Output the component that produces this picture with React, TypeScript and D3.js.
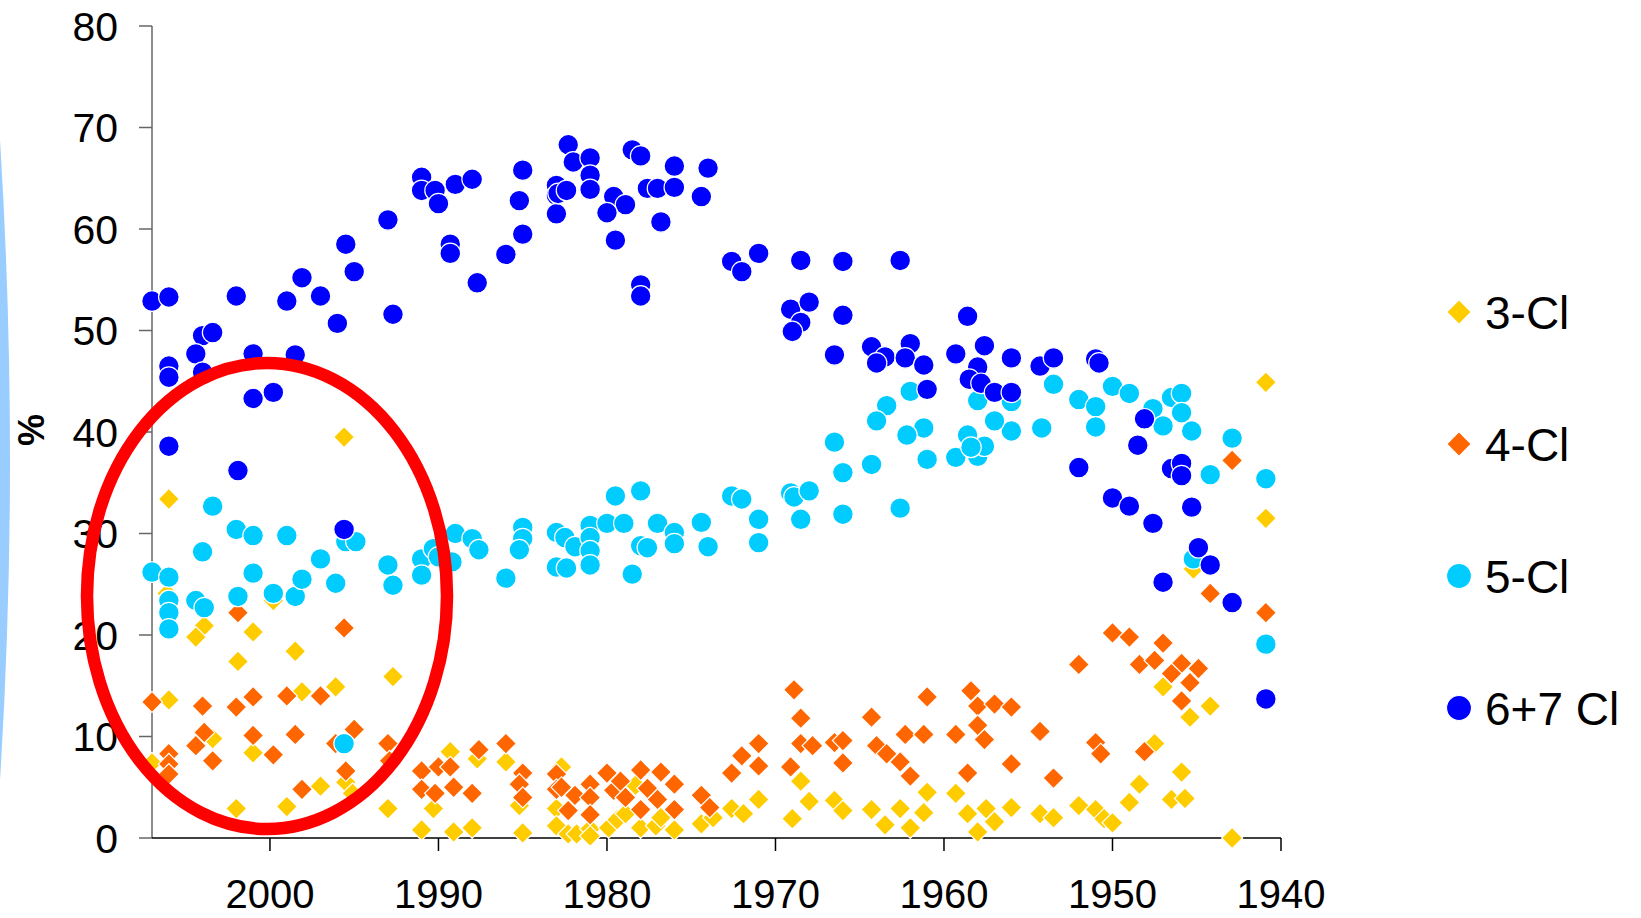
import * as d3 from "d3";

// year, percent
const cl3: [number, number][] = [
  [1995.6,39.5],[2006.0,33.4],[2006.1,24.1],[1999.8,23.4],[2003.9,20.9],[2004.4,19.8],[2001.0,20.3],[2001.9,17.4],
  [1998.5,18.4],[1992.7,15.9],[1996.1,14.9],[1998.1,14.4],[2006.0,13.6],[2007.0,7.4],[2003.4,9.8],[2001.0,8.4],
  [1997.0,5.1],[1995.5,5.5],[1995.1,4.4],[2002.0,2.9],[1999.0,3.1],[1993.0,2.9],[1991.0,0.8],[1990.3,2.9],
  [1989.3,8.5],[1989.1,0.6],[1988.0,1.0],[1987.7,7.8],[1986.0,7.5],[1985.0,0.5],[1985.2,3.2],[1983.0,2.9],
  [1983.0,1.2],[1982.7,7.0],[1982.3,0.4],[1981.8,0.4],[1981.0,0.9],[1981.0,0.2],[1979.9,1.0],[1979.4,1.8],
  [1978.9,2.4],[1978.3,5.2],[1978.0,1.0],[1977.1,1.2],[1976.8,2.0],[1976.0,0.8],[1974.4,1.4],[1973.7,2.0],
  [1972.6,2.9],[1971.9,2.4],[1971.0,3.8],[1969.0,1.9],[1968.5,5.6],[1968.0,3.6],[1966.5,3.7],[1966.0,2.7],
  [1964.3,2.8],[1963.5,1.3],[1962.6,2.9],[1962.0,1.0],[1961.2,2.5],[1961.0,4.5],[1959.3,4.4],[1958.6,2.4],
  [1958.0,0.6],[1957.5,2.9],[1957.0,1.6],[1956.0,3.0],[1954.3,2.4],[1953.5,2.0],[1952.0,3.2],[1951.0,2.8],
  [1950.5,1.9],[1950.0,1.5],[1949.0,3.5],[1947.0,14.9],[1945.4,11.9],[1944.2,13.0],[1947.5,9.3],[1945.9,6.5],
  [1948.4,5.3],[1946.5,3.8],[1945.7,3.9],[1942.9,0.0],[1940.9,44.9],[1940.9,31.5],[1945.2,26.5],
];

const cl4: [number, number][] = [
  [2007.0,13.4],[2006.0,8.3],[2006.0,7.3],[2006.0,6.3],[2001.9,22.2],[1995.6,20.7],[2004.0,13.0],[2002.0,12.9],
  [2001.0,13.9],[1999.0,14.0],[1997.0,14.0],[2003.9,10.4],[2004.4,9.1],[2003.4,7.6],[2001.0,10.1],[1999.8,8.2],
  [1998.5,10.2],[1995.0,10.7],[1996.1,9.3],[1995.5,6.6],[1998.1,4.8],[1993.0,9.3],[1992.9,7.6],[1991.0,6.6],
  [1991.0,4.8],[1990.0,7.0],[1990.2,4.4],[1989.3,7.0],[1989.1,5.0],[1988.0,4.4],[1987.6,8.7],[1986.0,9.3],
  [1985.0,6.4],[1985.2,5.3],[1985.0,4.0],[1983.0,6.3],[1983.0,4.8],[1982.7,5.0],[1981.9,4.2],[1982.3,2.7],
  [1981.0,5.3],[1981.0,4.0],[1981.0,2.3],[1980.0,6.4],[1979.6,4.7],[1979.2,5.6],[1978.9,4.0],[1978.0,6.7],
  [1978.0,2.8],[1977.6,4.9],[1976.8,6.5],[1977.0,3.8],[1976.0,5.3],[1976.0,2.8],[1974.4,4.2],[1973.9,3.0],
  [1972.6,6.4],[1972.0,8.1],[1971.0,9.3],[1971.0,7.1],[1969.1,7.0],[1968.9,14.6],[1968.5,11.8],[1968.5,9.3],
  [1967.8,9.1],[1966.5,9.4],[1966.0,9.6],[1966.0,7.4],[1964.3,11.9],[1964.0,9.1],[1963.4,8.3],[1962.6,7.5],
  [1962.3,10.2],[1962.0,6.1],[1961.2,10.2],[1961.0,13.9],[1959.3,10.2],[1958.6,6.4],[1958.4,14.5],[1958.0,13.0],
  [1958.0,11.1],[1957.6,9.7],[1957.0,13.2],[1956.0,12.9],[1956.0,7.3],[1954.3,10.5],[1953.5,5.9],[1952.0,17.1],
  [1951.0,9.4],[1950.7,8.3],[1948.1,8.5],[1950.0,20.2],[1949.0,19.8],[1947.0,19.2],[1948.4,17.1],[1947.5,17.5],
  [1945.9,17.2],[1944.9,16.7],[1946.5,16.2],[1945.4,15.3],[1945.9,13.5],[1944.2,24.1],[1940.9,22.2],[1942.9,37.2],
];

const cl5: [number, number][] = [
  [2007.0,26.2],[2006.0,25.7],[2006.0,23.4],[2006.0,22.2],[2006.0,20.6],[2004.4,23.4],[2003.9,22.7],[2003.4,32.7],
  [2004.0,28.2],[2002.0,30.4],[2001.0,29.8],[2001.0,26.1],[2001.9,23.8],[1999.8,24.1],[1999.0,29.8],[1998.5,23.8],
  [1998.1,25.5],[1997.0,27.5],[1996.1,25.1],[1995.5,29.2],[1994.9,29.2],[1995.6,9.3],[1993.0,26.9],[1992.7,24.9],
  [1991.0,27.5],[1991.0,25.9],[1990.3,28.5],[1990.0,27.7],[1989.2,27.2],[1989.0,30.0],[1988.0,29.5],[1987.6,28.4],
  [1986.0,25.6],[1985.0,30.6],[1985.0,29.5],[1985.2,28.4],[1983.0,30.1],[1983.0,26.7],[1982.5,29.6],[1981.9,28.7],
  [1981.0,30.8],[1981.0,29.6],[1981.0,28.3],[1981.0,26.9],[1982.4,26.6],[1980.0,31.0],[1979.5,33.7],[1979.0,31.0],
  [1978.5,26.0],[1978.0,34.2],[1978.0,28.8],[1977.6,28.6],[1977.0,31.0],[1976.0,30.1],[1976.0,29.0],[1974.4,31.1],
  [1974.0,28.7],[1972.6,33.7],[1972.0,33.4],[1971.0,31.4],[1971.0,29.1],[1969.1,34.0],[1968.9,33.6],[1968.0,34.2],
  [1968.5,31.4],[1966.5,39.0],[1966.0,36.0],[1966.0,31.9],[1964.3,36.8],[1962.6,32.5],[1961.0,37.3],[1959.3,37.5],
  [1958.0,37.6],[1957.6,38.6],[1958.6,39.7],[1961.2,40.4],[1962.2,39.7],[1956.0,40.1],[1954.2,40.4],[1962.0,44.0],
  [1963.4,42.6],[1964.0,41.1],[1958.4,38.5],[1958.0,43.1],[1957.0,41.1],[1956.0,43.0],[1953.5,44.7],[1952.0,43.2],
  [1951.0,42.5],[1951.0,40.5],[1950.0,44.5],[1949.0,43.8],[1947.6,42.3],[1946.5,43.4],[1945.9,43.8],[1947.0,40.6],
  [1945.9,41.9],[1945.3,40.1],[1942.9,39.4],[1944.2,35.8],[1940.9,35.4],[1940.9,19.1],[1945.2,27.5],
];

const cl67: [number, number][] = [
  [2007.0,52.9],[2006.0,53.3],[2006.0,46.5],[2006.0,45.4],[2006.0,38.6],[2004.0,49.5],[2003.4,49.8],[2004.4,47.7],
  [2004.0,45.9],[2002.0,53.4],[2001.0,47.7],[2001.0,43.3],[1999.8,43.9],[2001.9,36.2],[1999.0,52.9],[1998.5,47.6],
  [1998.1,55.2],[1997.0,53.4],[1996.0,50.7],[1995.5,58.5],[1995.0,55.8],[1995.6,30.4],[1993.0,60.9],[1992.7,51.6],
  [1991.0,65.1],[1991.0,63.8],[1990.2,63.8],[1990.0,62.5],[1989.3,58.5],[1989.3,57.6],[1989.0,64.4],[1988.0,64.9],
  [1987.7,54.7],[1986.0,57.5],[1985.0,65.8],[1985.2,62.8],[1985.0,59.5],[1983.0,64.3],[1983.0,63.3],[1983.0,61.5],
  [1982.3,68.3],[1982.0,66.6],[1981.0,67.0],[1981.0,65.3],[1981.0,63.9],[1982.9,63.5],[1982.4,63.8],[1979.6,63.2],
  [1978.9,62.4],[1980.0,61.6],[1979.5,58.9],[1978.5,67.8],[1978.0,67.2],[1977.6,64.0],[1977.0,64.0],[1976.0,66.2],
  [1976.0,64.1],[1976.8,60.7],[1978.0,54.5],[1978.0,53.4],[1974.0,66.0],[1974.4,63.2],[1972.6,56.8],[1972.0,55.8],
  [1971.0,57.6],[1968.5,56.9],[1966.0,56.8],[1962.6,56.9],[1969.1,52.1],[1968.0,52.8],[1968.5,50.8],[1969.0,49.9],
  [1966.0,51.5],[1966.5,47.6],[1964.3,48.4],[1963.5,47.4],[1964.0,46.8],[1962.0,48.7],[1962.3,47.3],[1961.2,46.6],
  [1961.0,44.2],[1958.6,51.4],[1959.3,47.7],[1957.6,48.5],[1958.0,46.4],[1958.5,45.2],[1957.8,44.8],[1957.0,43.9],
  [1956.0,43.9],[1956.0,47.3],[1954.3,46.5],[1953.5,47.3],[1951.0,47.2],[1950.8,46.8],[1952.0,36.5],[1948.1,41.3],
  [1948.5,38.7],[1946.5,36.4],[1945.9,36.9],[1945.9,35.7],[1950.0,33.5],[1949.0,32.7],[1947.6,31.0],[1945.3,32.6],
  [1944.9,28.6],[1944.2,26.9],[1947.0,25.2],[1942.9,23.2],[1940.9,13.7],
];

const seriesNames = ["3-Cl", "4-Cl", "5-Cl", "6+7 Cl"];
const seriesColors = ["#FFCC00", "#FF6600", "#00CCFF", "#0000FF"];
const seriesShapes = ["diamond", "diamond", "circle", "circle"];
const seriesData = [cl3, cl4, cl5, cl67];

const xTicks = [2000, 1990, 1980, 1970, 1960, 1950, 1940];
const yTicks = [0, 10, 20, 30, 40, 50, 60, 70, 80];

const W = 1641;
const H = 918;
const FONT = "'Liberation Sans', Arial, sans-serif";

export default function App() {
  const x = d3.scaleLinear().domain([2007, 1940]).range([152, 1281]);
  const y = d3.scaleLinear().domain([0, 80]).range([838, 26]);

  const diamond = d3.symbol(d3.symbolSquare, 220)()!;
  const legendDiamond = d3.symbol(d3.symbolSquare, 300)()!;

  const marker = (shape: string, color: string, cx: number, cy: number, key: string, big = false) =>
    shape === "diamond" ? (
      <path
        key={key}
        d={big ? legendDiamond : diamond}
        transform={`translate(${cx},${cy}) rotate(45)`}
        fill={color}
        stroke="#fff"
        strokeWidth={1.2}
      />
    ) : (
      <circle key={key} cx={cx} cy={cy} r={big ? 12.5 : 10.3} fill={color} stroke="#fff" strokeWidth={1.2} />
    );

  const axisY = x.range()[0];
  const axisX0 = y(0);

  return (
    <svg
      width={W}
      height={H}
      style={{ position: "absolute", left: 0, top: 0, display: "block", background: "#fff" }}
      fontFamily={FONT}
    >
      {/* edge of a light blue slide shape */}
      <path d="M0,140 Q20,460 0,780 Z" fill="#99CCFF" />

      {/* axes */}
      <line x1={axisY} x2={axisY} y1={y(80)} y2={axisX0} stroke="#666" strokeWidth={1.5} />
      {yTicks.map((t) => (
        <g key={"y" + t}>
          <line x1={axisY - 13} x2={axisY} y1={y(t)} y2={y(t)} stroke="#666" strokeWidth={1.5} />
          <text x={118} y={y(t)} dy="0.36em" textAnchor="end" fontSize={41} fill="#000">
            {t}
          </text>
        </g>
      ))}
      <line x1={axisY} x2={x.range()[1]} y1={axisX0} y2={axisX0} stroke="#000" strokeWidth={1.5} />
      {xTicks.map((t) => (
        <g key={"x" + t}>
          <line x1={x(t)} x2={x(t)} y1={axisX0} y2={axisX0 + 13} stroke="#000" strokeWidth={1.5} />
          <text x={x(t)} y={908} textAnchor="middle" fontSize={40} fill="#000">
            {t}
          </text>
        </g>
      ))}
      <text
        transform="translate(44,430) rotate(-90)"
        textAnchor="middle"
        fontSize={36}
        fontWeight="bold"
        fill="#000"
      >
        %
      </text>

      {/* points */}
      {seriesData.map((data, si) => (
        <g key={"s" + si}>
          {data.map((d, i) => marker(seriesShapes[si], seriesColors[si], x(d[0]), y(d[1]), `${si}-${i}`))}
        </g>
      ))}

      {/* highlight ellipse */}
      <ellipse cx={267} cy={596} rx={180} ry={233} fill="none" stroke="#FF0000" strokeWidth={12.5} />

      {/* legend */}
      {seriesNames.map((name, i) => {
        const ly = 312 + i * 132;
        return (
          <g key={"l" + i}>
            {marker(seriesShapes[i], seriesColors[i], 1459, ly, "lm" + i, true)}
            <text x={1485} y={ly} dy="0.36em" fontSize={46} fill="#000">
              {name}
            </text>
          </g>
        );
      })}
    </svg>
  );
}
